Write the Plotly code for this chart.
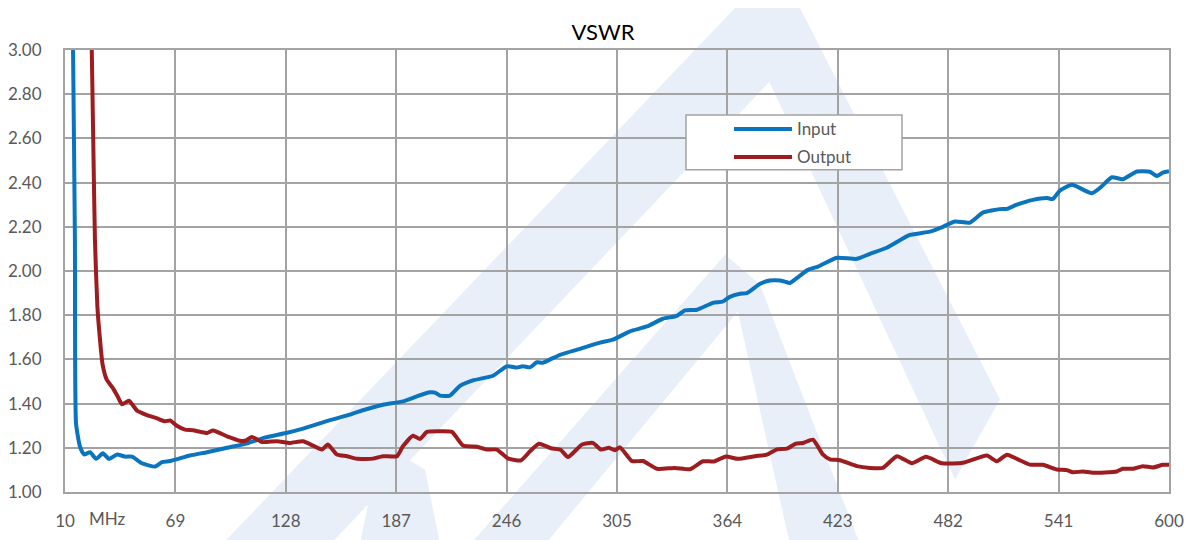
import plotly.graph_objects as go

# ---------------- data ----------------
input_freq = [10, 14.3, 15.3, 15.9, 18.0, 20.2, 23.4, 26.6, 30.3, 33.5, 37.8, 42.1, 45.8,
              51.1, 58.1, 61.8, 66.1, 76.8, 85.9, 96.6, 107.3, 116.3, 128.1, 137.2, 151.6,
              162.3, 169.2, 179.9, 190.6, 198.1, 205.0, 207.7, 210.4, 215.7, 221.1, 228.0,
              238.7, 246.2, 251.5, 254.7, 258.5, 262.2, 265.4, 274.5, 285.2, 295.9, 302.8,
              311.9, 321.0, 329.5, 337.0, 341.3, 347.7, 356.3, 361.6, 365.3, 370.7, 374.4,
              381.4, 386.7, 392.1, 394.7, 397.4, 402.2, 407.0, 412.4, 422.5, 433.2, 440.2,
              449.2, 461.5, 472.2, 479.2, 485.6, 493.6, 500.5, 509.6, 513.4, 518.7, 527.3,
              534.7, 537.9, 541.7, 548.1, 558.8, 563.1, 569.5, 575.3, 582.8, 589.8, 593.5,
              596.7, 600]
input_vswr = [6.0, 3.00, 2.14, 1.31, 1.205, 1.17, 1.18, 1.15, 1.175, 1.15, 1.17, 1.16, 1.16,
              1.13, 1.115, 1.135, 1.14, 1.165, 1.18, 1.20, 1.22, 1.245, 1.267, 1.287, 1.325,
              1.35, 1.37, 1.395, 1.41, 1.433, 1.451, 1.45, 1.436, 1.436, 1.48, 1.505,
              1.526, 1.569, 1.563, 1.569, 1.564, 1.587, 1.585, 1.621, 1.648, 1.676, 1.689,
              1.727, 1.749, 1.784, 1.797, 1.822, 1.825, 1.856, 1.862, 1.883, 1.897, 1.90,
              1.942, 1.957, 1.957, 1.952, 1.946, 1.975, 2.005, 2.02, 2.06, 2.055, 2.078,
              2.105, 2.163, 2.178, 2.20, 2.224, 2.219, 2.264, 2.28, 2.281, 2.30, 2.322,
              2.33, 2.326, 2.364, 2.39, 2.352, 2.376, 2.424, 2.415, 2.45, 2.449, 2.43,
              2.445, 2.451]

output_freq = [10, 20.0, 24.3, 25.1, 26.0, 27.3, 28.7, 30.1, 32.3, 35.6, 38.3, 40.5, 44.2,
               48.5, 53.8, 59.2, 63.4, 66.1, 69.8, 74.1, 78.4, 85.9, 89.1, 96.6, 103.5,
               106.7, 109.9, 115.3, 123.3, 130.2, 137.2, 142.5, 147.3, 150.5, 155.3, 160.7,
               166.0, 174.6, 179.9, 187.4, 190.6, 196.0, 199.7, 203.4, 210.4, 216.8, 222.7,
               230.2, 235.5, 240.8, 246.7, 253.7, 258.5, 263.3, 269.7, 275.0, 278.8, 286.3,
               292.1, 296.4, 300.7, 303.9, 306.6, 313.0, 318.9, 326.3, 336.0, 344.0, 350.9,
               356.8, 363.2, 369.6, 378.7, 385.1, 390.5, 395.8, 400.6, 404.4, 409.7, 415.0,
               418.8, 424.1, 433.2, 440.2, 447.1, 454.6, 462.6, 470.1, 478.6, 489.9, 502.7,
               508.0, 513.4, 518.7, 525.7, 532.6, 540.1, 545.4, 548.6, 554.0, 559.3, 572.1,
               575.3, 580.7, 586.0, 591.4, 596.7, 600]
output_vswr = [10.0, 5.0, 3.00, 2.59, 2.14, 1.84, 1.69, 1.576, 1.508, 1.47, 1.43, 1.397, 1.413,
               1.368, 1.348, 1.333, 1.32, 1.324, 1.30, 1.282, 1.279, 1.267, 1.278, 1.252, 1.232,
               1.233, 1.249, 1.226, 1.23, 1.222, 1.23, 1.21, 1.192, 1.215, 1.17, 1.162,
               1.15, 1.151, 1.162, 1.162, 1.207, 1.255, 1.24, 1.272, 1.275, 1.272, 1.21,
               1.205, 1.192, 1.192, 1.152, 1.143, 1.184, 1.218, 1.198, 1.19, 1.158, 1.215,
               1.222, 1.192, 1.20, 1.189, 1.202, 1.14, 1.14, 1.105, 1.109, 1.103, 1.139,
               1.138, 1.161, 1.15, 1.162, 1.169, 1.193, 1.196, 1.219, 1.222, 1.237, 1.17,
               1.148, 1.144, 1.117, 1.109, 1.109, 1.162, 1.13, 1.159, 1.13, 1.132, 1.165,
               1.139, 1.169, 1.15, 1.124, 1.123, 1.102, 1.099, 1.089, 1.093, 1.087, 1.093,
               1.105, 1.105, 1.117, 1.111, 1.123, 1.123]

x_tick_values = [10, 69, 128, 187, 246, 305, 364, 423, 482, 541, 600]
x_tick_labels = ["10", "69", "128", "187", "246", "305", "364", "423", "482", "541", "600"]
series_names = ["Input", "Output"]
title_text = "VSWR"
unit_label = "MHz"

# ---------------- layout geometry ----------------
# the page body adds an 8px offset; reference pixel positions are compensated
OFF = 8
W, H = 1200, 540
L, R, T, B = 65, 1169, 50, 492.5          # plot area in reference pixels
PW, PH = R - L, B - T

def px(x):
    return (x - L) / PW

def py(y):
    return (B - y) / PH

BLUE = "#0B74BF"
RED = "#9C1C20"
GRID = "#A3A3A3"
TXT = "#595959"
WM = "#E8EFF8"
FONT = "Lato, 'Open Sans', sans-serif"

fig = go.Figure()
fig.add_trace(go.Scatter(x=input_freq, y=input_vswr, mode="lines", name=series_names[0],
                         line=dict(color=BLUE, width=4, shape="spline", smoothing=0.5),
                         showlegend=False))
fig.add_trace(go.Scatter(x=output_freq, y=output_vswr, mode="lines", name=series_names[1],
                         line=dict(color=RED, width=4, shape="spline", smoothing=0.5),
                         showlegend=False))

shapes = []

def poly(points, color=WM):
    d = "M " + " L ".join(f"{px(a):.5f},{py(b):.5f}" for a, b in points) + " Z"
    return dict(type="path", xref="paper", yref="paper", path=d, fillcolor=color,
                line=dict(width=0), layer="below")

# watermark (approximate logo)
shapes.append(poly([(222, 545), (330, 545), (795, 55), (760, 8), (735, 8)]))
shapes.append(poly([(735, 8), (800, 8), (1000, 400), (955, 480)]))
shapes.append(poly([(470, 545), (545, 545), (760, 285), (725, 255)]))
shapes.append(poly([(725, 255), (760, 285), (860, 545), (790, 545)]))
shapes.append(poly([(360, 545), (375, 470), (400, 455), (425, 470), (440, 545)]))

# outer chart border
shapes.append(dict(type="rect", xref="paper", yref="paper", x0=px(6), x1=px(1215),
                   y0=py(6), y1=py(560), line=dict(color=GRID, width=1.5),
                   fillcolor="rgba(0,0,0,0)", layer="below"))

# legend box
shapes.append(dict(type="rect", xref="paper", yref="paper", x0=px(686), x1=px(902),
                   y0=py(115), y1=py(170), line=dict(color=GRID, width=1.5),
                   fillcolor="white", layer="above"))
shapes.append(dict(type="line", xref="paper", yref="paper", x0=px(734), x1=px(792),
                   y0=py(129), y1=py(129), line=dict(color=BLUE, width=4), layer="above"))
shapes.append(dict(type="line", xref="paper", yref="paper", x0=px(734), x1=px(792),
                   y0=py(157), y1=py(157), line=dict(color=RED, width=4), layer="above"))

annotations = [
    dict(text=series_names[0], xref="paper", yref="paper", x=px(795), y=py(129),
         xanchor="left", yanchor="middle", showarrow=False, font=dict(size=17, color=TXT, family=FONT)),
    dict(text=series_names[1], xref="paper", yref="paper", x=px(795), y=py(157),
         xanchor="left", yanchor="middle", showarrow=False, font=dict(size=17, color=TXT, family=FONT)),
    dict(text=unit_label, xref="paper", yref="paper", x=px(107), y=py(519),
         xanchor="center", yanchor="middle", showarrow=False, font=dict(size=17, color=TXT, family=FONT)),
]

fig.update_layout(
    width=W, height=H,
    margin=dict(l=L - OFF, r=W - R + OFF, t=T - OFF, b=H - B + OFF, pad=0, autoexpand=False),
    paper_bgcolor="white", plot_bgcolor="rgba(0,0,0,0)",
    title=dict(text=title_text, x=(603 - OFF) / W, xref="container", xanchor="center",
               y=1 - (32 - OFF) / H, yref="container", yanchor="middle",
               font=dict(size=22, color="#000000", family=FONT)),
    shapes=shapes, annotations=annotations, showlegend=False,
    font=dict(family=FONT, color=TXT, size=17),
)
fig.update_xaxes(range=[10, 600], tickvals=x_tick_values, ticktext=x_tick_labels,
                 showgrid=True, gridcolor=GRID, gridwidth=2, zeroline=False,
                 showline=True, linecolor=GRID, linewidth=2, mirror=True, automargin=False,
                 ticks="", ticklabelstandoff=13, tickfont=dict(size=17, color=TXT))
fig.update_yaxes(range=[1, 3], dtick=0.2, tick0=1, tickformat=".2f",
                 showgrid=True, gridcolor=GRID, gridwidth=2, zeroline=False,
                 showline=True, linecolor=GRID, linewidth=2, mirror=True, automargin=False,
                 ticks="", ticklabelstandoff=18, tickfont=dict(size=17, color=TXT))

fig.write_html("out.html")
